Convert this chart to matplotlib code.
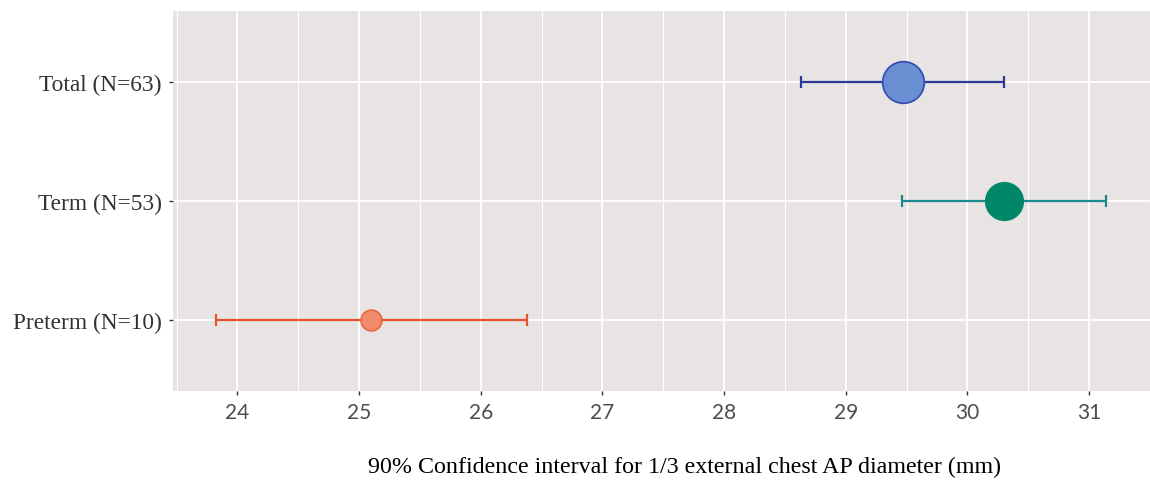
import matplotlib.pyplot as plt
import numpy as np

# data
groups = ["Preterm (N=10)", "Term (N=53)", "Total (N=63)"]
n_obs = [10, 53, 63]
mean = [25.10, 30.30, 29.47]
lower = [23.82, 29.46, 28.63]
upper = [26.38, 31.14, 30.30]
xticks = [24, 25, 26, 27, 28, 29, 30, 31]

# styles
line_col = ["#e8532c", "#1b8a8c", "#2b3a9a"]
fill_col = ["#f08b6c", "#00876a", "#6a8ed2"]
edge_col = ["#e8673f", "#00876a", "#2f4bb0"]
msize = [15, 27, 30]

fig = plt.figure(figsize=(11.5, 4.85), dpi=100)
ax = fig.add_axes([0.1504, 0.1918, 0.8496, 0.7835])
ax.set_facecolor("#e8e4e3")

y = np.arange(len(groups))
for i in range(len(groups)):
    ax.errorbar(mean[i], y[i],
                xerr=[[mean[i] - lower[i]], [upper[i] - mean[i]]],
                fmt="none", ecolor=line_col[i], elinewidth=1.6,
                capsize=4.5, capthick=1.6, zorder=3)
    ax.plot(mean[i], y[i], "o", ms=msize[i], mfc=fill_col[i],
            mec=edge_col[i], mew=1.2, zorder=4)

ax.set_xlim(23.47, 31.40)
ax.set_ylim(-0.6, len(groups) - 0.4)
ax.set_xticks(xticks)
ax.set_xticks(np.arange(23.5, 31.6, 1.0), minor=True)
ax.set_yticks(y)
ax.set_yticklabels(groups, family="Liberation Serif", fontsize=16.8,
                   color="#333333")
ax.set_xticklabels([str(t) for t in xticks], family="Lato", fontsize=15,
                   color="#4d4d4d")

ax.grid(which="major", color="white", lw=1.3)
ax.grid(which="minor", axis="x", color="white", lw=0.8)
ax.set_axisbelow(True)
for s in ax.spines.values():
    s.set_visible(False)
ax.tick_params(which="major", length=3, width=1, color="#333333", pad=5)
ax.tick_params(which="minor", length=0)

ax.set_xlabel("90% Confidence interval for 1/3 external chest AP diameter (mm)",
              family="Liberation Serif", fontsize=17.3, color="black")
ax.xaxis.set_label_coords(0.524, -0.172)

fig.savefig("out.png", dpi=100, facecolor="white")
